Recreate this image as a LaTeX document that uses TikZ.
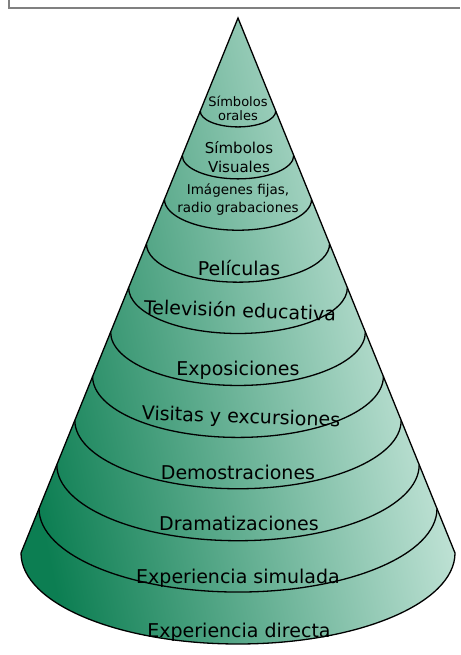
\documentclass[tikz,border=0pt]{standalone}
\usepackage{fontspec}
\setmainfont{DejaVu Sans}
\definecolor{conedark}{RGB}{12,126,82}
\definecolor{conelight}{RGB}{220,242,234}
\definecolor{framegray}{RGB}{128,128,128}
\tikzset{
  level/.style={font=\fontsize{19}{21}\selectfont, inner sep=0pt, align=center},
  small level/.style={level, font=\fontsize{15}{19}\selectfont},
  ring/.style={black, line width=1.3pt}
}
\begin{document}
\begin{tikzpicture}[x=1pt,y=1pt]

	\useasboundingbox (0,0) rectangle (460,655);

	% Frame
	\draw[framegray, line width=2pt] (9,655) -- (9,647) -- (460,647);

	% Cone
	\draw[ring, left color=conedark, right color=conelight, shading angle=102]
		(238,637) -- (21,102)
		arc[start angle=180, end angle=360, x radius=217, y radius=91] -- cycle;

	% Rings
	\foreach \t in {0.174,0.257,0.339,0.422,0.504,0.587,0.670,0.752,0.835,0.917}
		\draw[ring] ({238-217*\t},{637-535*\t})
			arc[start angle=180, end angle=360, x radius={217*\t}, y radius={91*\t}];

	% Labels
	\node[small level, font=\fontsize{13}{14}\selectfont] (orales) at (238,547) {Símbolos\\orales};
	\node[small level, font=\fontsize{15}{19}\selectfont] (visuales) at (239,498) {Símbolos\\Visuales};
	\node[small level, font=\fontsize{13.5}{18}\selectfont] (imagenes) at (238,455) {Imágenes fijas,\\radio grabaciones};
	\node[level] (peliculas) at (239,387) {Películas};
	\node[level, rotate=-2] (television) at (240,345) {Televisión educativa};
	\node[level] (exposiciones) at (238,285) {Exposiciones};
	\node[level, rotate=-2] (visitas) at (241,237) {Visitas y excursiones};
	\node[level] (demostraciones) at (238,183) {Demostraciones};
	\node[level] (dramatizaciones) at (239,132) {Dramatizaciones};
	\node[level] (simulada) at (238,77) {Experiencia simulada};
	\node[level] (directa) at (239,23) {Experiencia directa};

\end{tikzpicture}
\end{document}
